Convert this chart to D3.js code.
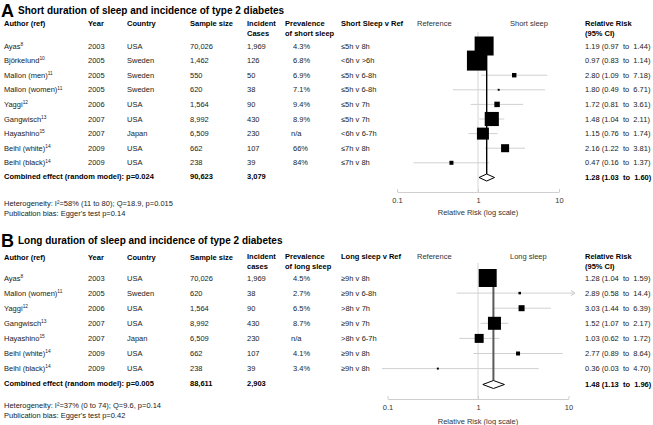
<!DOCTYPE html>
<html><head><meta charset="utf-8">
<script src="https://cdn.jsdelivr.net/npm/d3@7"></script>
<style>
html,body{margin:0;padding:0;background:#fff;}
svg text{font-family:"Liberation Sans",Arial,sans-serif;white-space:pre;}
</style></head>
<body><svg id="c" width="653" height="425"></svg>
<script>
// ---------- Panel A data (short sleep) ----------
const authorsA = ["Ayas","Björkelund","Mallon (men)","Mallon (women)","Yaggi","Gangwisch","Hayashino","Beihl (white)","Beihl (black)"];
const refsA = ["8","10","11","11","12","13","15","14","14"];
const yearsA = ["2003","2005","2005","2005","2006","2007","2007","2009","2009"];
const countriesA = ["USA","Sweden","Sweden","Sweden","USA","USA","Japan","USA","USA"];
const samplesA = ["70,026","1,462","550","620","1,564","8,992","6,509","662","238"];
const casesA = ["1,969","126","50","38","90","430","230","107","39"];
const prevalenceA = ["4.3%","6.8%","6.9%","7.1%","9.4%","8.9%","n/a","66%","84%"];
const comparisonsA = ["≤5h v 8h","<6h v >6h","≤5h v 6-8h","≤5h v 6-8h","≤5h v 7h","≤5h v 7h","<6h v 6-7h","≤7h v 8h","≤7h v 8h"];
const rrA = [1.19,0.97,2.80,1.80,1.72,1.48,1.15,2.16,0.47];
const loA = [0.97,0.83,1.09,0.49,0.81,1.04,0.76,1.22,0.16];
const hiA = [1.44,1.14,7.18,6.71,3.61,2.11,1.74,3.81,1.37];
const rrTextA = ["1.19 (0.97  to  1.44)","0.97 (0.83  to  1.14)","2.80 (1.09  to  7.18)","1.80 (0.49  to  6.71)","1.72 (0.81  to  3.61)","1.48 (1.04  to  2.11)","1.15 (0.76  to  1.74)","2.16 (1.22  to  3.81)","0.47 (0.16  to  1.37)"];
const weightsA = [29.1,32.3,1.6,0.3,2.4,16.1,11.6,5.2,1.3];
const pooledA = {rr:1.28, lo:1.03, hi:1.60, text:"1.28 (1.03  to  1.60)", label:"Combined effect (random model): p=0.024", n:"90,623", cases:"3,079"};
const notesA = ["Heterogeneity: I²=58% (11 to 80); Q=18.9, p=0.015","Publication bias: Egger's test p=0.14"];

// ---------- Panel B data (long sleep) ----------
const authorsB = ["Ayas","Mallon (women)","Yaggi","Gangwisch","Hayashino","Beihl (white)","Beihl (black)"];
const refsB = ["8","11","12","13","15","14","14"];
const yearsB = ["2003","2005","2006","2007","2007","2009","2009"];
const countriesB = ["USA","Sweden","USA","USA","Japan","USA","USA"];
const samplesB = ["70,026","620","1,564","8,992","6,509","662","238"];
const casesB = ["1,969","38","90","430","230","107","39"];
const prevalenceB = ["4.5%","2.7%","6.5%","8.7%","n/a","4.1%","3.4%"];
const comparisonsB = ["≥9h v 8h","≥9h v 6-8h",">8h v 7h","≥9h v 7h",">8h v 6-7h","≥9h v 8h","≥9h v 8h"];
const rrB = [1.28,2.89,3.03,1.52,1.03,2.77,0.36];
const loB = [1.04,0.58,1.44,1.07,0.62,0.89,0.03];
const hiB = [1.59,14.4,6.39,2.17,1.72,8.64,4.70];
const rrTextB = ["1.28 (1.04  to  1.59)","2.89 (0.58  to  14.4)","3.03 (1.44  to  6.39)","1.52 (1.07  to  2.17)","1.03 (0.62  to  1.72)","2.77 (0.89  to  8.64)","0.36 (0.03  to  4.70)"];
const weightsB = [50.9,1.0,5.7,26.6,12.7,2.5,0.6];
const pooledB = {rr:1.48, lo:1.13, hi:1.96, text:"1.48 (1.13  to  1.96)", label:"Combined effect (random model): p=0.005", n:"88,611", cases:"2,903"};
const notesB = ["Heterogeneity: I²=37% (0 to 74); Q=9.6, p=0.14","Publication bias: Egger's test p=0.42"];

const axisTicks = [0.1, 1, 10];

const svg = d3.select("#c");
const FS = 7.5;
const txtCol = "#222";
const cols = {author:4, year:88, country:127, sample:190, cases:247, prev:285, prevVal:293, comp:341, refLbl:417, sideLbl:510, rr:585};

function drawPanel(cfg){
  const g = svg.append("g");
  const n = cfg.authors.length;
  const y = d3.scaleLinear().domain([0, n-1]).range([cfg.row0, cfg.row0 + cfg.step*(n-1)]);
  const x = d3.scaleLog().domain([0.1, 10]).range(cfg.xr);
  const side = d3.scaleSqrt().domain([0,100]).range([0, cfg.maxSide]);

  // title
  g.append("text").attr("x",1).attr("y",cfg.titleBase+1.5).attr("font-size",18).attr("font-weight","bold").attr("fill","#000").text(cfg.letter);
  g.append("text").attr("x",18).attr("y",cfg.titleBase-1).attr("font-size",10).attr("font-weight","bold").attr("fill","#000").text(cfg.title);

  // headers
  const h1 = cfg.head1, h2 = cfg.head1 + 10;
  const hb = (xx,yy,t,bold=true)=>g.append("text").attr("x",xx).attr("y",yy).attr("dy","0.35em").attr("font-size",FS).attr("font-weight",bold?"bold":"normal").attr("fill",bold?"#000":"#333").text(t);
  hb(cols.author,h1+cfg.single,"Author (ref)");
  hb(cols.year,h1+cfg.single,"Year");
  hb(cols.country,h1+cfg.single,"Country");
  hb(cols.sample,h1+cfg.single,"Sample size");
  hb(cols.cases,h1,"Incident"); hb(cols.cases,h2,cfg.casesHead);
  hb(cols.prev,h1,"Prevalence"); hb(cols.prev,h2,cfg.prevHead);
  hb(cols.comp,h1,cfg.compHead);
  hb(cols.refLbl,h1,"Reference",false);
  hb(cols.sideLbl,h1,cfg.sideHead,false);
  hb(cols.rr,h1,"Relative Risk"); hb(cols.rr,h2,"(95% CI)");

  // reference line at 1
  g.append("line").attr("x1",x(1)).attr("x2",x(1)).attr("y1",cfg.refTop).attr("y2",cfg.axisY).attr("stroke","#d6d6d6").attr("stroke-width",1);

  // axis
  const ax = g.append("g").attr("transform",`translate(0,${cfg.axisY})`)
    .call(d3.axisBottom(x).tickValues(axisTicks).tickFormat(d=>String(d)).tickSizeInner(-3).tickSizeOuter(0).tickPadding(6));
  ax.select(".domain").attr("stroke","#cfcfcf");
  ax.selectAll(".tick line").attr("stroke","#cfcfcf");
  ax.selectAll(".tick text").attr("font-size",FS).attr("fill","#333").attr("font-family","Liberation Sans, Arial, sans-serif");
  g.append("text").attr("x",x(1)).attr("y",cfg.axisTitleY).attr("dy","0.35em").attr("text-anchor","middle").attr("font-size",FS).attr("fill","#333").text("Relative Risk (log scale)");

  // CI lines
  const [cl, ch] = cfg.clip;
  for(let i=0;i<n;i++){
    const lo = Math.max(cfg.lo[i], cl), hi = Math.min(cfg.hi[i], ch);
    g.append("line").attr("x1",x(lo)).attr("x2",x(hi)).attr("y1",y(i)).attr("y2",y(i)).attr("stroke","#d0d0d0").attr("stroke-width",1);
    if(cfg.hi[i] > ch){
      const xe = x(ch);
      g.append("path").attr("d",`M${xe-4},${y(i)-2.5}L${xe},${y(i)}L${xe-4},${y(i)+2.5}`).attr("fill","none").attr("stroke","#c8c8c8").attr("stroke-width",1);
    }
  }
  const dy = cfg.pooledY;
  // pooled vertical line
  g.append("line").attr("x1",x(cfg.pooled.rr)).attr("x2",x(cfg.pooled.rr)).attr("y1",y(0)).attr("y2",dy-cfg.dh)
    .attr("stroke",cfg.vColor).attr("stroke-width",cfg.vWidth);
  // squares
  for(let i=0;i<n;i++){
    const s = side(cfg.weights[i]);
    g.append("rect").attr("x",x(cfg.rr[i])-s/2).attr("y",y(i)-s/2).attr("width",s).attr("height",s).attr("fill","#000");
  }
  // diamond
  const p = cfg.pooled;
  g.append("path").attr("d",`M${x(p.lo)},${dy}L${x(p.rr)},${dy-cfg.dh}L${x(p.hi)},${dy}L${x(p.rr)},${dy+cfg.dh}Z`).attr("fill","#fff").attr("stroke","#000").attr("stroke-width",1);

  // rows text
  for(let i=0;i<n;i++){
    const yy = y(i);
    const t = g.append("text").attr("x",cols.author).attr("y",yy).attr("dy","0.35em").attr("font-size",FS).attr("fill",txtCol);
    t.append("tspan").text(cfg.authors[i]);
    t.append("tspan").attr("font-size",4.8).attr("dy",-2.8).text(cfg.refs[i]);
    const cell=(xx,s)=>g.append("text").attr("x",xx).attr("y",yy).attr("dy","0.35em").attr("font-size",FS).attr("fill",txtCol).text(s);
    cell(cols.year,cfg.years[i]);
    cell(cols.country,cfg.countries[i]);
    cell(cols.sample,cfg.samples[i]);
    cell(cols.cases,cfg.cases[i]);
    cell(cfg.prev[i]==="n/a"?cols.prevVal-2:cols.prevVal,cfg.prev[i]);
    cell(cols.comp,cfg.comps[i]);
    cell(cols.rr,cfg.rrText[i]);
  }
  const bold=(xx,yy,s)=>g.append("text").attr("x",xx).attr("y",yy).attr("dy","0.35em").attr("font-size",FS).attr("font-weight","bold").attr("fill","#000").text(s);
  bold(cols.author,cfg.combY,p.label);
  bold(cols.sample,cfg.combY,p.n);
  bold(cols.cases,cfg.combY,p.cases);
  bold(cols.rr,dy,p.text);
  cfg.notes.forEach((s,k)=>g.append("text").attr("x",cols.author).attr("y",cfg.noteY+k*10).attr("dy","0.35em").attr("font-size",FS).attr("fill",txtCol).text(s));
}

drawPanel({
  letter:"A", title:"Short duration of sleep and incidence of type 2 diabetes", titleBase:15,
  head1:23, single:0, casesHead:"Cases", prevHead:"of short sleep", compHead:"Short Sleep v Ref", sideHead:"Short sleep",
  authors:authorsA, refs:refsA, years:yearsA, countries:countriesA, samples:samplesA, cases:casesA, prev:prevalenceA, comps:comparisonsA,
  rr:rrA, lo:loA, hi:hiA, rrText:rrTextA, weights:weightsA, pooled:pooledA, notes:notesA,
  row0:46, step:14.6, xr:[397,559], maxSide:35.2, clip:[0.087,11.8],
  refTop:32, axisY:192, axisTitleY:212, pooledY:177.5, combY:176, dh:3.5, noteY:203,
  vColor:"#000", vWidth:1.4
});
drawPanel({
  letter:"B", title:"Long duration of sleep and incidence of type 2 diabetes", titleBase:245,
  head1:256, single:1, casesHead:"cases", prevHead:"of long sleep", compHead:"Long sleep v Ref", sideHead:"Long sleep",
  authors:authorsB, refs:refsB, years:yearsB, countries:countriesB, samples:samplesB, cases:casesB, prev:prevalenceB, comps:comparisonsB,
  rr:rrB, lo:loB, hi:hiB, rrText:rrTextB, weights:weightsB, pooled:pooledB, notes:notesB,
  row0:278, step:15.1, xr:[387.5,568.5], maxSide:25.2, clip:[0.087,11.8],
  refTop:263, axisY:399, axisTitleY:421, pooledY:384.5, combY:383, dh:4, noteY:405,
  vColor:"#5a5a5a", vWidth:2
});
</script></body></html>
